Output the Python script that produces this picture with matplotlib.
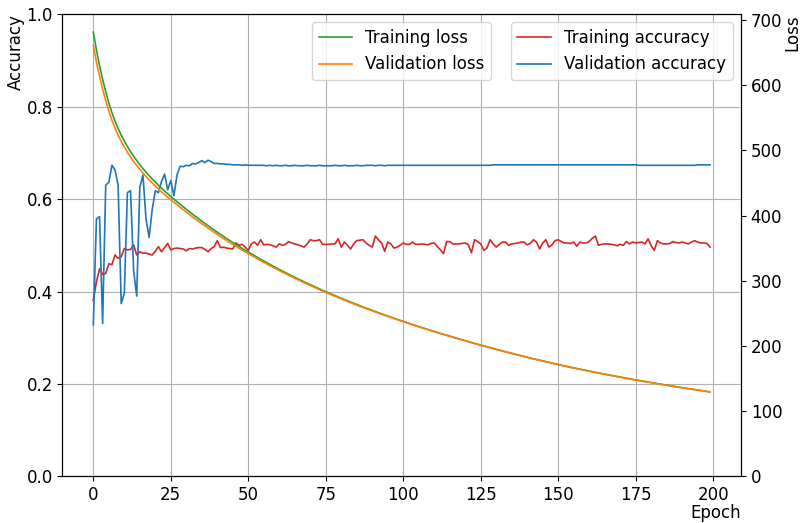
import numpy as np
import matplotlib
matplotlib.use('Agg')
import matplotlib.pyplot as plt

train_loss = [
    681.5, 654.5, 630.5, 609.0, 590.0, 573.0, 558.0, 545.0, 533.5, 523.5,
    514.5, 506.0, 498.2, 491.1, 484.5, 478.2, 472.3, 466.7, 461.4, 456.3,
    451.4, 446.7, 442.2, 437.8, 433.5, 429.3, 425.3, 421.3, 417.4, 413.6,
    409.8, 406.0, 402.3, 398.7, 395.1, 391.5, 388.0, 384.6, 381.2, 377.8,
    374.5, 371.3, 368.1, 364.9, 361.8, 358.8, 355.8, 352.8, 349.9, 347.0,
    344.2, 341.4, 338.6, 335.8, 333.1, 330.4, 327.8, 325.2, 322.6, 320.0,
    317.5, 315.0, 312.6, 310.2, 307.8, 305.4, 303.1, 300.8, 298.5, 296.3,
    294.1, 291.9, 289.7, 287.6, 285.5, 283.4, 281.3, 279.3, 277.3, 275.3,
    273.3, 271.3, 269.4, 267.5, 265.6, 263.7, 261.9, 260.0, 258.2, 256.4,
    254.6, 252.9, 251.1, 249.4, 247.7, 246.0, 244.3, 242.6, 241.0, 239.4,
    237.7, 236.1, 234.6, 233.0, 231.4, 229.9, 228.3, 226.8, 225.3, 223.8,
    222.3, 220.9, 219.4, 218.0, 216.5, 215.1, 213.7, 212.3, 210.9, 209.5,
    208.1, 206.8, 205.4, 204.1, 202.8, 201.4, 200.1, 198.8, 197.5, 196.3,
    195.0, 193.7, 192.5, 191.2, 190.0, 188.8, 187.6, 186.4, 185.2, 184.0,
    182.8, 181.7, 180.5, 179.4, 178.3, 177.1, 176.0, 174.9, 173.8, 172.8,
    171.7, 170.6, 169.6, 168.5, 167.5, 166.5, 165.5, 164.5, 163.5, 162.5,
    161.5, 160.6, 159.6, 158.7, 157.8, 156.8, 155.9, 155.0, 154.1, 153.2,
    152.3, 151.4, 150.6, 149.7, 148.9, 148.0, 147.2, 146.3, 145.5, 144.7,
    143.9, 143.1, 142.3, 141.5, 140.7, 139.9, 139.2, 138.4, 137.6, 136.9,
    136.1, 135.4, 134.7, 133.9, 133.2, 132.5, 131.8, 131.1, 130.4, 129.7,
]

val_loss = [
    661.0, 636.0, 614.0, 594.0, 576.5, 560.5, 546.5, 534.5, 523.5, 514.0,
    505.5, 497.5, 490.0, 483.3, 477.0, 471.0, 465.3, 460.0, 454.9, 450.1,
    445.4, 440.9, 436.6, 432.4, 428.3, 424.3, 420.5, 416.6, 412.8, 409.1,
    405.4, 401.7, 398.1, 394.6, 391.1, 387.6, 384.2, 380.9, 377.6, 374.3,
    371.1, 368.0, 364.9, 361.8, 358.8, 355.9, 353.0, 350.1, 347.3, 344.5,
    341.8, 339.1, 336.4, 333.6, 331.0, 328.4, 325.8, 323.3, 320.8, 318.2,
    315.8, 313.4, 311.0, 308.7, 306.3, 304.0, 301.7, 299.5, 297.2, 295.0,
    292.9, 290.7, 288.6, 286.5, 284.4, 282.4, 280.3, 278.3, 276.3, 274.3,
    272.4, 270.4, 268.5, 266.6, 264.7, 262.9, 261.0, 259.2, 257.4, 255.7,
    253.9, 252.2, 250.5, 248.8, 247.1, 245.4, 243.8, 242.1, 240.5, 238.8,
    237.2, 235.7, 234.2, 232.6, 231.0, 229.5, 227.9, 226.4, 224.9, 223.4,
    222.0, 220.6, 219.1, 217.7, 216.2, 214.8, 213.4, 212.0, 210.6, 209.2,
    207.8, 206.5, 205.1, 203.8, 202.5, 201.1, 199.8, 198.5, 197.2, 196.0,
    194.7, 193.5, 192.3, 191.0, 189.8, 188.6, 187.4, 186.2, 185.0, 183.8,
    182.6, 181.5, 180.3, 179.2, 178.1, 176.9, 175.8, 174.7, 173.6, 172.6,
    171.5, 170.4, 169.4, 168.3, 167.3, 166.3, 165.3, 164.3, 163.3, 162.3,
    161.3, 160.4, 159.4, 158.5, 157.6, 156.6, 155.7, 154.8, 153.9, 153.0,
    152.1, 151.3, 150.5, 149.6, 148.8, 147.9, 147.1, 146.2, 145.4, 144.6,
    143.8, 143.0, 142.2, 141.4, 140.6, 139.8, 139.1, 138.3, 137.5, 136.8,
    136.0, 135.3, 134.6, 133.8, 133.1, 132.4, 131.7, 131.0, 130.3, 129.6,
]

train_acc = [
    .381, .421, .449, .437, .439, .460, .458, .479, .472, .475,
    .493, .490, .491, .501, .479, .486, .483, .483, .481, .479,
    .487, .497, .486, .495, .504, .490, .493, .494, .493, .492,
    .488, .493, .492, .494, .495, .495, .491, .486, .493, .497,
    .510, .495, .496, .494, .493, .492, .505, .500, .502, .496,
    .489, .503, .507, .500, .512, .501, .502, .501, .499, .496,
    .503, .500, .502, .508, .505, .503, .501, .499, .496, .503,
    .512, .510, .510, .512, .502, .502, .502, .503, .503, .514,
    .496, .507, .500, .492, .503, .510, .511, .512, .505, .500,
    .496, .520, .512, .505, .487, .507, .503, .494, .496, .500,
    .505, .502, .502, .507, .502, .502, .503, .502, .501, .504,
    .505, .497, .490, .482, .508, .508, .503, .503, .503, .504,
    .505, .501, .484, .512, .508, .503, .489, .494, .512, .503,
    .496, .502, .507, .507, .500, .503, .504, .505, .507, .507,
    .501, .504, .512, .507, .492, .505, .512, .496, .501, .510,
    .512, .508, .505, .505, .504, .507, .498, .507, .505, .505,
    .508, .515, .520, .500, .502, .503, .503, .502, .501, .499,
    .502, .500, .508, .503, .507, .505, .506, .507, .503, .514,
    .499, .489, .510, .505, .503, .503, .504, .508, .506, .505,
    .507, .505, .503, .507, .510, .507, .505, .505, .504, .496,
]

val_acc = [
    .328, .557, .562, .331, .630, .636, .673, .663, .630, .374,
    .396, .614, .618, .446, .390, .625, .652, .557, .517, .577,
    .618, .614, .638, .654, .620, .640, .607, .652, .671, .670,
    .673, .672, .677, .676, .679, .683, .679, .684, .681, .677,
    .677, .676, .676, .675, .675, .674, .674, .674, .673, .674,
    .673, .673, .673, .673, .673, .673, .672, .673, .672, .673,
    .672, .672, .673, .672, .672, .673, .672, .672, .672, .673,
    .672, .672, .672, .673, .672, .672, .672, .672, .673, .672,
    .672, .673, .672, .672, .672, .673, .672, .672, .673, .673,
    .673, .672, .673, .673, .672, .673, .673, .673, .673, .673,
    .673, .673, .673, .673, .673, .673, .673, .673, .673, .673,
    .673, .673, .673, .673, .673, .673, .673, .673, .673, .673,
    .673, .673, .673, .673, .673, .673, .673, .673, .673, .674,
    .674, .674, .674, .674, .674, .674, .674, .674, .674, .674,
    .674, .674, .674, .674, .674, .674, .674, .674, .674, .674,
    .674, .674, .674, .674, .674, .674, .674, .674, .674, .674,
    .674, .674, .674, .674, .674, .674, .674, .674, .674, .674,
    .674, .674, .674, .674, .674, .674, .673, .673, .673, .673,
    .673, .673, .673, .673, .673, .673, .673, .673, .673, .673,
    .673, .673, .673, .673, .673, .674, .674, .674, .674, .674,
]

epochs = np.arange(len(train_loss))

plt.rcParams['font.size'] = 12

fig, ax1 = plt.subplots(figsize=(8.01, 5.23), dpi=100)
fig.subplots_adjust(left=0.078, right=0.925, top=0.973, bottom=0.089)
ax2 = ax1.twinx()

ax1.plot(epochs, train_acc, color='#d62728', lw=1.2, label='Training accuracy')
ax1.plot(epochs, val_acc, color='#1f77b4', lw=1.2, label='Validation accuracy')
ax2.plot(epochs, train_loss, color='#2ca02c', lw=1.2, label='Training loss')
ax2.plot(epochs, val_loss, color='#ff7f0e', lw=1.2, label='Validation loss')

ax1.set_ylim(0, 1.0)
ax2.set_ylim(bottom=0)
ax1.grid(True)

ax1.set_xlabel('Epoch', loc='right', labelpad=0)
ax1.set_ylabel('Accuracy', loc='top', labelpad=1)
ax2.set_ylabel('Loss', loc='top', labelpad=1)

leg_acc = ax2.legend(*ax1.get_legend_handles_labels(), loc='upper right')
ax2.add_artist(leg_acc)
ax2.legend(loc='upper center')

fig.savefig('out.png')
